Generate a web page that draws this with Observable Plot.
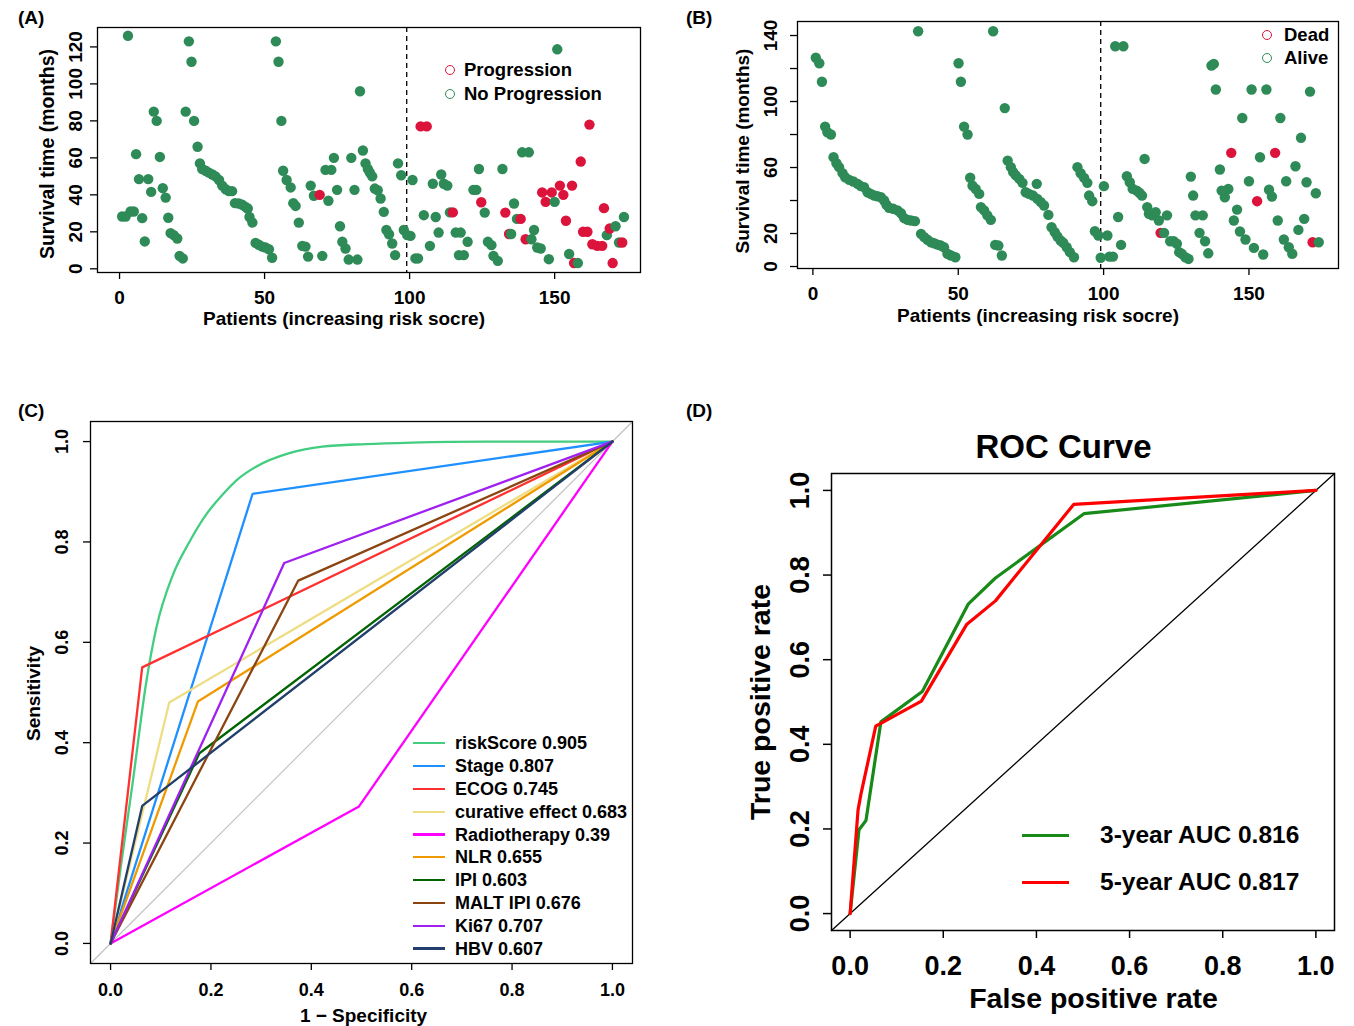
<!DOCTYPE html>
<html><head><meta charset="utf-8">
<script src="https://cdn.jsdelivr.net/npm/d3@7"></script>
<script src="https://cdn.jsdelivr.net/npm/@observablehq/plot@0.6"></script>
<style>
body{margin:0;background:#fff;}
#root{position:relative;width:1354px;height:1026px;font-family:"Liberation Sans",Arial,Helvetica,sans-serif;color:#000;overflow:hidden;}
.panel{position:absolute;}
.abs{position:absolute;font-weight:bold;white-space:nowrap;line-height:1;}
</style>
</head><body><div id="root"></div>
<script>
const FONT = '"Liberation Sans", Arial, Helvetica, sans-serif';
const GREEN = "#2E8B57", RED = "#DC143C";

// ---------- Panel A: progression ----------
const aPatient = [0.9,2.1,2.9,3.8,4.9,5.7,6.7,7.8,8.7,9.9,10.9,11.8,12.8,13.9,14.9,15.9,16.8,17.6,18.7,19.9,20.7,21.8,22.8,23.9,24.8,25.7,26.9,27.7,28.5,29.7,30.8,32,33.1,34.3,35.4,36.6,37.7,38.8,39.8,41.1,42.3,43.4,44.2,44.8,45.8,46.9,48,49.2,50.3,51.5,52.6,53.9,54.8,55.8,56.4,57.6,59,59.9,60.7,61.8,63,64.1,65,65.9,67,69,69.9,71,72,73,73.9,75,76,76.8,77.9,79,79.9,81,82,82.9,83.9,84.8,85.6,86.3,87.1,88,89,90,91.1,92,92.9,94,95,96,97.1,98,99.2,100.3,101,102,102.9,103.8,104.9,105.9,107,108,109,110,110.9,111.8,113,113.9,114.9,115.9,117,117.6,118.7,120,122,123,123.9,124.7,125.9,127,128.2,128.9,130.4,132,133,134.3,135,136,137,138.3,138.8,140,141.1,142,142.9,144,145.2,145.7,146.9,148,149,150,150.9,151.8,153,153.9,155,156,156.7,158,159,159.8,161.3,162,163,164.7,166.4,167,168,169,170,171,172.2,173.3,173.9];
const aMonths = [28.3,28.3,126,31,31,62,48.5,27.4,14.8,48.5,41.6,85,80,60.5,43.6,38.5,27.6,19.3,18.2,16.4,7,5.6,85,123,112,80,66,57,54,53,52,51,50,48,45,43,42,42,35.5,35.3,34.6,33.5,32.6,28,25,14,13,12,11.5,10.6,6,123,112,80,53,48,44,35.5,34,25,12.4,12,6.6,45,39.5,40,7,53.5,36.8,53.5,60,42.7,23,14.6,11,5,60,42.7,5,96,64,57,54,52,50,43.4,42.5,38,30.8,21,18.7,13.7,7.4,57,50.6,21,18.2,17.8,48,5.6,5.6,77,29,77,12.4,46,28,19.6,51,46,45,30.5,30.5,19.6,7.4,19.6,7.4,14.6,42.7,42.7,54,36,30.4,14.6,12.8,7,4.3,54,30.4,18.8,18.8,35.3,27,27,63,16,63,16,21,11.5,11,41.3,36.2,5.2,41.3,36.2,118.7,45,40,26,8,45,3.1,3.1,58,20,20,78,13.3,12.4,12.4,32.8,18.2,21.8,3.1,23,14.2,14.2,28];
const aStatus = [0,0,0,0,0,0,0,0,0,0,0,0,0,0,0,0,0,0,0,0,0,0,0,0,0,0,0,0,0,0,0,0,0,0,0,0,0,0,0,0,0,0,0,0,0,0,0,0,0,0,0,0,0,0,0,0,0,0,0,0,0,0,0,0,0,1,0,0,0,0,0,0,0,0,0,0,0,0,0,0,0,0,0,0,0,0,0,0,0,0,0,0,0,0,0,0,0,0,0,0,0,1,0,1,0,0,0,0,0,0,0,0,1,0,0,0,0,0,0,0,0,1,0,0,0,0,0,0,1,1,0,0,0,1,0,1,0,0,0,0,0,1,1,0,1,0,0,1,1,1,0,1,1,0,1,1,1,1,1,1,1,1,0,1,1,0,0,1];
const aLegend = ["Progression", "No Progression"];

// ---------- Panel B: survival ----------
const bPatient = [1,2.2,3.1,4.2,5,6.2,7.1,8.1,9,10.2,11.1,12.5,13.9,15.4,16.5,17.6,18.8,19.9,21.1,22.2,23.4,24.5,25.3,26.2,27.6,29.1,30.3,31.4,32.6,33.7,35.1,36.2,37.2,38.3,39.4,40.6,41.7,42.9,44,45.1,46.3,47.5,49,50.1,50.9,52,53.2,54.1,54.9,56,57.2,57.8,58.9,60,61.2,62,62.7,63.8,65,66,67,68.1,68.9,69.8,71,72.1,73.2,74.3,75.7,77,77.2,78.4,79.5,81,82.1,83.2,84.1,85.2,86.1,87.3,88.4,89.8,91,92.1,93.3,94.4,95,96.1,97,98.2,99,100.1,101.3,102,103.2,104,105,106,106.8,108,109,110,111.4,112.3,113.2,114.1,115,115.6,116.7,117.9,119,119.6,120.8,121.8,122.9,124.1,125.2,126,126.9,128.1,129.2,130,130.8,131.6,133,134.1,134.9,136,137.1,137.9,138.6,140,140.6,141.7,142.9,143.9,144.8,145.9,146.9,147.7,148.8,150,150.9,151.7,152.8,153.8,154.9,156,156.9,157.9,159,159.9,160.8,162,162.8,163.7,164.9,166,167,167.9,169,169.8,171,171.9,173,174];
const bMonths = [126.5,123.2,112,84.8,81.4,80,66.2,62.6,60.2,56.6,54.1,52.5,51.5,50.1,48.7,48.1,45,44,43,42.6,42,40,37.4,35.6,35,34,32.3,29.3,28.3,27.9,27.5,142.6,19.8,17.8,16.2,14.7,14.1,13.3,12.7,11.7,7.7,6.7,5.6,123.2,112,84.8,80,53.8,49,47,44,36,34,31,28.3,142.6,13.1,12.7,6.7,96,64.2,60.2,57.2,55.2,53.1,50.7,45,44,43,50.1,41,39,37,31.3,23.8,20.8,18.2,15.8,14.4,11.7,8.7,5.6,60.2,56.5,53.7,50.7,43,39.6,21.4,18.8,5.3,48.7,18.8,6,6,133.5,30,13.1,133.5,54.7,51.1,47.1,46,44.7,43,65.2,36,32,31,32.9,27.9,20.4,20.4,31,15.3,15.3,13.8,8.7,7.7,5.6,4.6,54.5,43,31,20.4,31,15.3,8,121.8,122.8,107.3,58.8,46,42,47,68.9,27.9,34.5,21.2,90,16.4,51.7,107.3,11.3,39.6,66.2,7.3,107.3,46.5,42.4,68.9,27.9,90,16.4,51.7,11.7,7.7,60.8,22.2,78,28.9,51.1,106,14.7,44.4,14.7];
const bStatus = [0,0,0,0,0,0,0,0,0,0,0,0,0,0,0,0,0,0,0,0,0,0,0,0,0,0,0,0,0,0,0,0,0,0,0,0,0,0,0,0,0,0,0,0,0,0,0,0,0,0,0,0,0,0,0,0,0,0,0,0,0,0,0,0,0,0,0,0,0,0,0,0,0,0,0,0,0,0,0,0,0,0,0,0,0,0,0,0,0,0,0,0,0,0,0,0,0,0,0,0,0,0,0,0,0,0,0,0,0,0,0,1,0,0,0,0,0,0,0,0,0,0,0,0,0,0,0,0,0,0,0,0,0,0,0,1,0,0,0,0,0,0,0,0,1,0,0,0,0,0,1,0,0,0,0,0,0,0,0,0,0,0,0,1,0];
const bLegend = ["Dead", "Alive"];
const riskCut = 99;

// ---------- Panel C: multi-ROC ----------
const cNames = ["riskScore","Stage","ECOG","curative effect","Radiotherapy","NLR","IPI","MALT IPI","Ki67","HBV"];
const cAuc = ["0.905","0.807","0.745","0.683","0.39","0.655","0.603","0.676","0.707","0.607"];
const cColors = ["#43CD80","#1E90FF","#FF3030","#EEDD82","#FF00FF","#EE9A00","#006400","#8B4513","#A020F0","#223F6B"];
// single cut-point ROC vertices (1-specificity, sensitivity) for the binary markers (index 1..9)
const cCutFpr = [null,0.283,0.063,0.117,0.495,0.174,0.177,0.374,0.346,0.063];
const cCutTpr = [null,0.896,0.55,0.48,0.273,0.482,0.379,0.723,0.758,0.274];
// smooth riskScore curve
const cRiskFpr = [0,0.02,0.044,0.071,0.091,0.124,0.157,0.19,0.223,0.256,0.29,0.356,0.422,0.508,0.6,0.75,1];
const cRiskTpr = [0,0.15,0.32,0.52,0.628,0.734,0.80,0.854,0.894,0.927,0.95,0.977,0.99,0.995,0.998,1,1];

// ---------- Panel D: time ROC ----------
const d3Fpr = [0,0.019,0.034,0.066,0.155,0.254,0.312,0.502,1];
const d3Tpr = [0,0.198,0.22,0.453,0.525,0.732,0.793,0.945,1];
const d5Fpr = [0,0.017,0.023,0.055,0.153,0.25,0.312,0.48,1];
const d5Tpr = [0,0.245,0.281,0.443,0.502,0.683,0.739,0.967,1];
const dNames = ["3-year AUC 0.816","5-year AUC 0.817"];
const dColors = ["#178A17","#FF0000"];

const rocDomain = [-0.04, 1.04];
const rocTicks = [0,0.2,0.4,0.6,0.8,1.0];

const root = document.getElementById("root");
function place(el, left, top){ el.classList.add("panel"); el.style.left = left+"px"; el.style.top = top+"px"; root.appendChild(el); }
function label(text, left, cy, size, extra={}){
  const d = document.createElement("div"); d.className="abs"; d.textContent=text;
  d.style.left=left+"px"; d.style.top=(cy - size*0.5)+"px"; d.style.fontSize=size+"px"; d.style.height=size+"px";
  Object.assign(d.style, extra); root.appendChild(d); return d;
}
function ring(cx, cy, r, color){
  const d=document.createElement("div"); d.style.position="absolute";
  d.style.left=(cx-r)+"px"; d.style.top=(cy-r)+"px"; d.style.width=(2*r)+"px"; d.style.height=(2*r)+"px";
  d.style.boxSizing="border-box"; d.style.border="1.4px solid "+color; d.style.borderRadius="50%"; root.appendChild(d);
}
function seg(x1, x2, cy, w, color){
  const d=document.createElement("div"); d.style.position="absolute";
  d.style.left=x1+"px"; d.style.top=(cy-w/2)+"px"; d.style.width=(x2-x1)+"px"; d.style.height=w+"px";
  d.style.background=color; root.appendChild(d);
}
const T = (o) => ({fontFamily: FONT, fontWeight: "bold", fill: "#000", textAnchor: "middle", lineAnchor: "middle", ...o});

function scatter(cfg){
  const data = cfg.patient.map((p,i)=>({p, m: cfg.months[i], c: cfg.status[i] ? RED : GREEN}));
  const fmt = d3.format("d");
  return Plot.plot({
    width: cfg.width, height: cfg.height,
    marginLeft: cfg.ml, marginRight: cfg.mr, marginTop: cfg.mt, marginBottom: cfg.mb,
    style: {fontFamily: FONT, background: "transparent", overflow: "visible"},
    x: {domain: cfg.xDomain},
    y: {domain: cfg.yDomain},
    color: {type: "identity"},
    marks: [
      Plot.ruleX([riskCut], {stroke: "#000", strokeWidth: 1.3, strokeDasharray: "5,4"}),
      Plot.dot(data, {x: "p", y: "m", fill: "c", r: 5.2}),
      Plot.frame({stroke: "#000", strokeWidth: 1.3}),
      Plot.axisX({ticks: cfg.xTicks, tickSize: 7, tickFormat: () => "", label: null, strokeWidth: 1.3}),
      Plot.axisY({ticks: cfg.yTicks, tickSize: 7, tickFormat: () => "", label: null, strokeWidth: 1.3}),
      Plot.text(cfg.xTicks, T({x: d=>d, text: d=>fmt(d), frameAnchor: "bottom", dy: cfg.xLabDy, fontSize: cfg.fs})),
      Plot.text(cfg.yLabTicks, T({y: d=>d, text: d=>fmt(d), frameAnchor: "left", dx: cfg.yLabDx, rotate: -90, fontSize: cfg.fs})),
      Plot.text([cfg.xTitle], T({text: d=>d, frameAnchor: "bottom", dy: cfg.xTitleDy, dx: cfg.xTitleDx, fontSize: cfg.fs})),
      Plot.text([cfg.yTitle], T({text: d=>d, frameAnchor: "left", dx: cfg.yTitleDx, dy: cfg.yTitleDy, rotate: -90, fontSize: cfg.fsY}))
    ]
  });
}

const aTicksX = [0,50,100,150];
const svgA = scatter({patient: aPatient, months: aMonths, status: aStatus, width: 677, height: 345,
  ml: 97, mr: 37, mt: 27, mb: 73, xDomain: [-7.6, 179.6], yDomain: [-2, 130.5],
  xTicks: aTicksX, yTicks: [0,20,40,60,80,100,120], yLabTicks: [0,20,40,60,80,100,120],
  xLabDy: 25, yLabDx: -22, xTitle: "Patients (increasing risk socre)", xTitleDy: 46, xTitleDx: -25,
  yTitle: "Survival time (months)", yTitleDx: -50, yTitleDy: 4, fs: 19, fsY: 19.5});
place(svgA, 0, 0);

const svgB = scatter({patient: bPatient, months: bMonths, status: bStatus, width: 677, height: 345,
  ml: 120, mr: 16, mt: 21, mb: 77, xDomain: [-5.3, 180.8], yDomain: [-1.2, 148.5],
  xTicks: aTicksX, yTicks: [0,20,40,60,80,100,120,140], yLabTicks: [0,20,60,100,140],
  xLabDy: 25, yLabDx: -27, xTitle: "Patients (increasing risk socre)", xTitleDy: 47, xTitleDx: -30,
  yTitle: "Survival time (months)", yTitleDx: -55, yTitleDy: 6, fs: 19, fsY: 19});
place(svgB, 677, 0);

// ---------- Panel C ----------
const cRows = [];
cRiskFpr.forEach((f,i)=>cRows.push({name: cNames[0], x: f, y: cRiskTpr[i]}));
const cLines = [];
for (let k = 1; k < cNames.length; k++) {
  cLines.push([{x:0,y:0,c:cColors[k]},{x:cCutFpr[k],y:cCutTpr[k],c:cColors[k]},{x:1,y:1,c:cColors[k]}]);
}
const rocFmt = d3.format(".1f");
const svgC = Plot.plot({
  width: 677, height: 681, marginLeft: 90, marginRight: 45, marginTop: 76, marginBottom: 63,
  style: {fontFamily: FONT, background: "transparent", overflow: "visible"},
  x: {domain: rocDomain}, y: {domain: rocDomain},
  marks: [
    Plot.line(rocDomain.map(v=>({v})), {x: "v", y: "v", stroke: "#BEBEBE", strokeWidth: 1.1}),
    Plot.line(cRows, {x: "x", y: "y", stroke: cColors[0], strokeWidth: 2.3, curve: "monotone-x"}),
    ...cLines.map(l => Plot.line(l, {x: "x", y: "y", stroke: l[0].c, strokeWidth: 2.3})),
    Plot.frame({stroke: "#000", strokeWidth: 1.3}),
    Plot.axisX({ticks: rocTicks, tickSize: 7, tickFormat: () => "", label: null, strokeWidth: 1.3}),
    Plot.axisY({ticks: rocTicks, tickSize: 7, tickFormat: () => "", label: null, strokeWidth: 1.3}),
    Plot.text(rocTicks, T({x: d=>d, text: d=>rocFmt(d), frameAnchor: "bottom", dy: 27, fontSize: 18})),
    Plot.text(rocTicks, T({y: d=>d, text: d=>rocFmt(d), frameAnchor: "left", dx: -28, rotate: -90, fontSize: 18})),
    Plot.text(["1 \u2212 Specificity"], T({text: d=>d, frameAnchor: "bottom", dy: 52, dx: 2, fontSize: 19})),
    Plot.text(["Sensitivity"], T({text: d=>d, frameAnchor: "left", dx: -57, dy: 1, rotate: -90, fontSize: 19}))
  ]
});
place(svgC, 0, 345);

// ---------- Panel D ----------
const dRows3 = d3Fpr.map((f,i)=>({x:f, y:d3Tpr[i]}));
const dRows5 = d5Fpr.map((f,i)=>({x:f, y:d5Tpr[i]}));
const svgD = Plot.plot({
  width: 677, height: 681, marginLeft: 154, marginRight: 20, marginTop: 128, marginBottom: 96,
  style: {fontFamily: FONT, background: "transparent", overflow: "visible"},
  x: {domain: rocDomain}, y: {domain: rocDomain},
  marks: [
    Plot.line(rocDomain.map(v=>({v})), {x: "v", y: "v", stroke: "#000", strokeWidth: 1.3}),
    Plot.line(dRows3, {x: "x", y: "y", stroke: dColors[0], strokeWidth: 3.2}),
    Plot.line(dRows5, {x: "x", y: "y", stroke: dColors[1], strokeWidth: 3.2}),
    Plot.frame({stroke: "#000", strokeWidth: 1.5}),
    Plot.axisX({ticks: rocTicks, tickSize: 8, tickFormat: () => "", label: null, strokeWidth: 1.5}),
    Plot.axisY({ticks: rocTicks, tickSize: 8, tickFormat: () => "", label: null, strokeWidth: 1.5}),
    Plot.text(rocTicks, T({x: d=>d, text: d=>rocFmt(d), frameAnchor: "bottom", dy: 36, fontSize: 27})),
    Plot.text(rocTicks, T({y: d=>d, text: d=>rocFmt(d), frameAnchor: "left", dx: -31, rotate: -90, fontSize: 27})),
    Plot.text(["False positive rate"], T({text: d=>d, frameAnchor: "bottom", dy: 68, dx: 10.5, fontSize: 28.5})),
    Plot.text(["True positive rate"], T({text: d=>d, frameAnchor: "left", dx: -71, rotate: -90, fontSize: 28.5})),
    Plot.text(["ROC Curve"], T({text: d=>d, frameAnchor: "top", dy: -26, dx: -19.5, fontSize: 33}))
  ]
});
place(svgD, 677, 345);

// ---------- overlays: tags and legends ----------
label("(A)", 18, 17, 19); label("(B)", 686, 17, 19); label("(C)", 18, 410, 19); label("(D)", 686, 410, 19);

[RED, GREEN].forEach((c,i)=>{ ring(450, 70 + i*24, 5, c); label(aLegend[i], 464, 70 + i*24, 18.5); });
[RED, GREEN].forEach((c,i)=>{ ring(1266.5, 35 + i*23.3, 5, c); label(bLegend[i], 1284, 35 + i*23.3, 18.5); });

cNames.forEach((n,i)=>{
  const cy = 743.3 + i*22.8;
  seg(412.5, 444.5, cy, 2.4, cColors[i]);
  label(n + " " + cAuc[i], 455, cy, 18);
});
dNames.forEach((n,i)=>{
  const cy = 835.7 + i*47;
  seg(1021.5, 1068.5, cy, 3.4, dColors[i]);
  label(n, 1100, cy, 24.5);
});
</script>
</body></html>
